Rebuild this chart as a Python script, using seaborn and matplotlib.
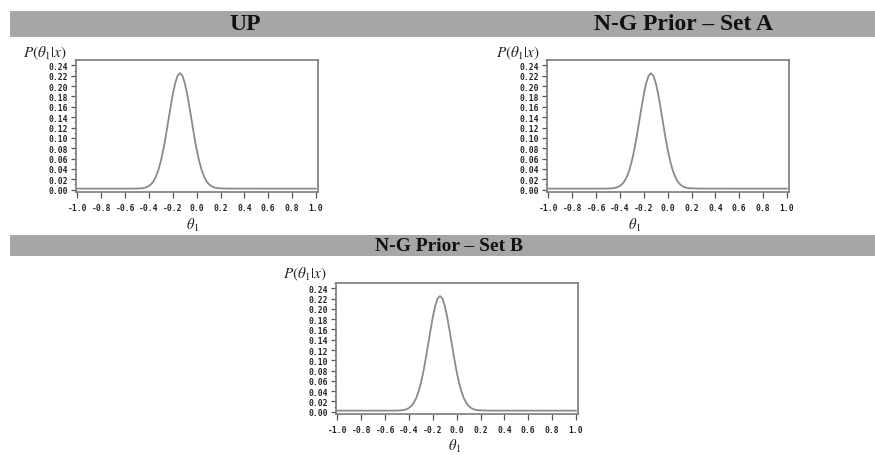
import matplotlib
matplotlib.use("Agg")
import matplotlib.pyplot as plt
import seaborn as sns
import pandas as pd
from matplotlib.patches import Rectangle
from matplotlib.ticker import MultipleLocator, FixedLocator

# ---------------- data ----------------
theta = [-1.00, -0.60, -0.52, -0.48, -0.46, -0.44, -0.42, -0.40, -0.38, -0.36,
         -0.34, -0.32, -0.30, -0.28, -0.26, -0.24, -0.22, -0.20, -0.18, -0.16,
         -0.14, -0.12, -0.10, -0.08, -0.06, -0.04, -0.02, 0.00, 0.02, 0.04,
         0.06, 0.08, 0.10, 0.12, 0.14, 0.16, 0.18, 0.26, 0.60, 1.00]
post_up = [0.0020, 0.0020, 0.0021, 0.0024, 0.0028, 0.0035, 0.0049, 0.0073, 0.0112, 0.0173,
           0.0263, 0.0390, 0.0560, 0.0773, 0.1024, 0.1302, 0.1584, 0.1847, 0.2061, 0.2201,
           0.2250, 0.2201, 0.2061, 0.1847, 0.1584, 0.1302, 0.1024, 0.0773, 0.0560, 0.0390,
           0.0263, 0.0173, 0.0112, 0.0073, 0.0049, 0.0035, 0.0028, 0.0021, 0.0020, 0.0020]
post_setA = [0.0020, 0.0020, 0.0021, 0.0024, 0.0028, 0.0035, 0.0049, 0.0073, 0.0112, 0.0173,
             0.0263, 0.0390, 0.0560, 0.0773, 0.1024, 0.1302, 0.1584, 0.1847, 0.2061, 0.2201,
             0.2250, 0.2201, 0.2061, 0.1847, 0.1584, 0.1302, 0.1024, 0.0773, 0.0560, 0.0390,
             0.0263, 0.0173, 0.0112, 0.0073, 0.0049, 0.0035, 0.0028, 0.0021, 0.0020, 0.0020]
post_setB = [0.0020, 0.0020, 0.0021, 0.0024, 0.0028, 0.0035, 0.0049, 0.0073, 0.0112, 0.0173,
             0.0263, 0.0390, 0.0560, 0.0773, 0.1024, 0.1302, 0.1584, 0.1847, 0.2061, 0.2201,
             0.2250, 0.2201, 0.2061, 0.1847, 0.1584, 0.1302, 0.1024, 0.0773, 0.0560, 0.0390,
             0.0263, 0.0173, 0.0112, 0.0073, 0.0049, 0.0035, 0.0028, 0.0021, 0.0020, 0.0020]

titles = ["UP", "N-G Prior \u2013 Set A", "N-G Prior \u2013 Set B"]
xticks = [-1.0, -0.8, -0.6, -0.4, -0.2, 0.0, 0.2, 0.4, 0.6, 0.8, 1.0]
yticks = [0.00, 0.02, 0.04, 0.06, 0.08, 0.10, 0.12, 0.14, 0.16, 0.18, 0.20, 0.22, 0.24]

# ---------------- figure ----------------
sns.set_theme(style="white")
plt.rcParams["mathtext.fontset"] = "stix"
W, H = 875, 456
fig = plt.figure(figsize=(W / 100, H / 100), dpi=100)
fig.patch.set_facecolor("white")

def fx(px):
    return px / W

def fy(py):
    return 1 - py / H

banner_col = "#a6a6a6"
fig.patches.append(Rectangle((fx(10), fy(38)), fx(865), 26 / H, transform=fig.transFigure,
                             facecolor=banner_col, edgecolor="none", zorder=0))
fig.patches.append(Rectangle((fx(10), fy(257)), fx(865), 21 / H, transform=fig.transFigure,
                             facecolor=banner_col, edgecolor="none", zorder=0))

fig.text(fx(245), fy(25), titles[0], ha="center", va="center", fontsize=17,
         fontweight="bold", family="Liberation Serif", color="#111111")
fig.text(fx(683), fy(25), titles[1], ha="center", va="center", fontsize=17,
         fontweight="bold", family="Liberation Serif", color="#111111")
fig.text(fx(449), fy(247), titles[2], ha="center", va="center", fontsize=14,
         fontweight="bold", family="Liberation Serif", color="#111111")

panels = [
    (76, 318, 61, 193, post_up, (45, 53), (193, 225)),
    (547, 789, 61, 193, post_setA, (518, 53), (635, 225)),
    (336, 578, 284, 415, post_setB, (305, 274), (455, 446)),
]

frame_col = "#7a7a7a"
curve_col = "#8a8a8a"

for (l, r, t, b, series, ylab, xlab) in panels:
    ax = fig.add_axes([fx(l), fy(b), (r - l) / W, (b - t) / H])
    df = pd.DataFrame({"theta": theta, "p": series})
    sns.lineplot(data=df, x="theta", y="p", ax=ax, color=curve_col, linewidth=1.3)
    ax.set_xlim(-1.012, 1.017)
    ax.set_ylim(-0.0045, 0.2505)
    ax.xaxis.set_major_locator(FixedLocator(xticks))
    ax.yaxis.set_major_locator(FixedLocator(yticks))
    ax.yaxis.set_minor_locator(MultipleLocator(0.01))
    ax.set_xticklabels([f"{v:.1f}" for v in xticks])
    ax.set_yticklabels([f"{v:.2f}" for v in yticks])
    ax.set_xlabel("")
    ax.set_ylabel("")
    for s in ax.spines.values():
        s.set_visible(True)
        s.set_color(frame_col)
        s.set_linewidth(1.2)
    ax.tick_params(axis="both", which="major", direction="out", length=3.5, width=0.9,
                   color="#555555", labelsize=5.8, labelcolor="#222222", pad=2)
    ax.tick_params(axis="y", which="minor", direction="out", length=1.5, width=0.6,
                   color="#777777", left=True)
    ax.tick_params(axis="x", which="major", length=4, pad=4)
    ax.tick_params(axis="both", bottom=True, left=True)
    for lab in ax.get_xticklabels() + ax.get_yticklabels():
        lab.set_family("DejaVu Sans Mono")
        lab.set_fontweight("bold")
    fig.text(fx(ylab[0]), fy(ylab[1]), r"$P(\theta_1|x)$", ha="center", va="center",
             fontsize=11, color="#222222")
    fig.text(fx(xlab[0]), fy(xlab[1]), r"$\theta_1$", ha="center", va="center",
             fontsize=10.5, color="#222222")

fig.savefig("out.png", dpi=100, facecolor="white")
